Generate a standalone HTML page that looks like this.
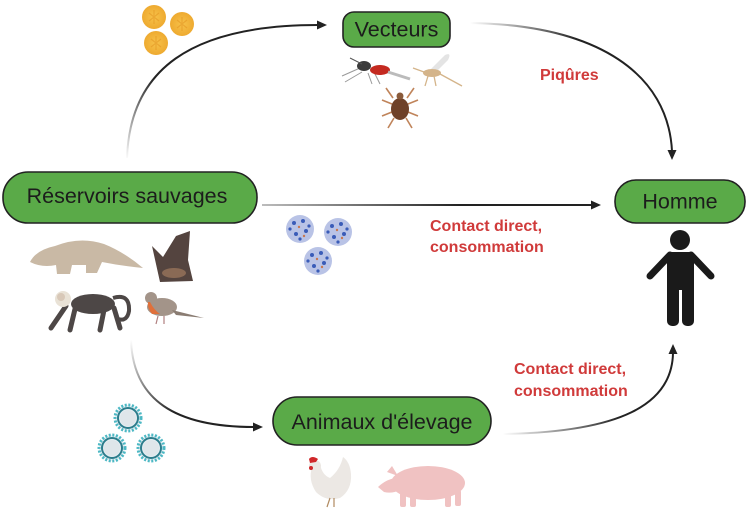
<!DOCTYPE html>
<html><head><meta charset="utf-8"><style>
html,body{margin:0;padding:0;background:#fff;}
svg{display:block;}
.bt{font-family:"Liberation Sans",Arial,sans-serif;font-size:21.5px;fill:#1c1c1c;}
.rt{font-family:"Liberation Sans",Arial,sans-serif;font-size:16px;font-weight:bold;fill:#d03a3a;}
</style></head><body>
<svg width="754" height="515" viewBox="0 0 754 515" xmlns="http://www.w3.org/2000/svg">
<defs>
<linearGradient id="g1" gradientUnits="userSpaceOnUse" x1="127" y1="160" x2="200" y2="40"><stop offset="0" stop-color="#222" stop-opacity="0"/><stop offset="0.6" stop-color="#222"/></linearGradient>
<linearGradient id="g2" gradientUnits="userSpaceOnUse" x1="470" y1="23" x2="620" y2="60"><stop offset="0" stop-color="#222" stop-opacity="0"/><stop offset="0.7" stop-color="#222"/></linearGradient>
<linearGradient id="g3" gradientUnits="userSpaceOnUse" x1="262" y1="0" x2="460" y2="0"><stop offset="0" stop-color="#222" stop-opacity="0.3"/><stop offset="1" stop-color="#222"/></linearGradient>
<linearGradient id="g4" gradientUnits="userSpaceOnUse" x1="131" y1="340" x2="170" y2="415"><stop offset="0" stop-color="#222" stop-opacity="0"/><stop offset="1" stop-color="#222"/></linearGradient>
<linearGradient id="g5" gradientUnits="userSpaceOnUse" x1="503" y1="434" x2="620" y2="425"><stop offset="0" stop-color="#222" stop-opacity="0"/><stop offset="1" stop-color="#222"/></linearGradient>
<radialGradient id="yv"><stop offset="0" stop-color="#f7c24a"/><stop offset="1" stop-color="#eeaa30"/></radialGradient>
</defs>

<!-- arrows -->
<path d="M127,158 C130,70 190,25 318,25" fill="none" stroke="url(#g1)" stroke-width="2"/>
<polygon points="327,25 317,20.5 317,29.5" fill="#222"/>
<path d="M470,23 C600,25 668,75 672,151" fill="none" stroke="url(#g2)" stroke-width="2"/>
<polygon points="672,160 667.5,150 676.5,150" fill="#222"/>
<path d="M262,205 L592,205" fill="none" stroke="url(#g3)" stroke-width="2"/>
<polygon points="601,205 591,200.5 591,209.5" fill="#222"/>
<path d="M131,340 C133,400 175,427 254,427" fill="none" stroke="url(#g4)" stroke-width="2"/>
<polygon points="263,427 253,422.5 253,431.5" fill="#222"/>
<path d="M503,434 C620,432 672,405 673,353" fill="none" stroke="url(#g5)" stroke-width="2"/>
<polygon points="673,344 668.5,354 677.5,354" fill="#222"/>

<!-- boxes -->
<rect x="343" y="12" width="107" height="35" rx="11" fill="#5aaa48" stroke="#222" stroke-width="1.6"/>
<text class="bt" x="396.5" y="36.5" text-anchor="middle">Vecteurs</text>
<rect x="3" y="172" width="254" height="51" rx="25" fill="#5aaa48" stroke="#222" stroke-width="1.6"/>
<text class="bt" x="127" y="203" text-anchor="middle">Réservoirs sauvages</text>
<rect x="615" y="180" width="130" height="43" rx="21" fill="#5aaa48" stroke="#222" stroke-width="1.6"/>
<text class="bt" x="680" y="208.5" text-anchor="middle">Homme</text>
<rect x="273" y="397" width="218" height="48" rx="24" fill="#5aaa48" stroke="#222" stroke-width="1.6"/>
<text class="bt" x="382" y="429" text-anchor="middle">Animaux d'élevage</text>

<!-- red labels -->
<text class="rt" x="540" y="80">Piqûres</text>
<text class="rt" x="430" y="231">Contact direct,</text>
<text class="rt" x="430" y="252">consommation</text>
<text class="rt" x="514" y="374">Contact direct,</text>
<text class="rt" x="514" y="396">consommation</text>

<!-- yellow viruses -->
<g>
<circle cx="154" cy="17" r="12" fill="url(#yv)"/>
<circle cx="182" cy="24" r="12" fill="url(#yv)"/>
<circle cx="156" cy="43" r="12" fill="url(#yv)"/>
<g stroke="#e39522" stroke-width="1.2" fill="none" opacity="0.55">
<path d="M149,13 L159,21 M159,13 L149,21 M154,10 L154,24"/>
<path d="M177,20 L187,28 M187,20 L177,28 M182,17 L182,31"/>
<path d="M151,39 L161,47 M161,39 L151,47 M156,36 L156,50"/>
</g>
</g>

<!-- blue viruses -->
<g>
<circle cx="300" cy="229" r="14" fill="#b9c3e6"/>
<circle cx="338" cy="232" r="14" fill="#b9c3e6"/>
<circle cx="318" cy="261" r="14" fill="#b9c3e6"/>
<g fill="#3a5cb8">
<circle cx="294" cy="223" r="2"/><circle cx="303" cy="221" r="2"/><circle cx="306" cy="231" r="2"/><circle cx="296" cy="234" r="2"/><circle cx="300" cy="239" r="1.6"/><circle cx="290" cy="229" r="1.6"/><circle cx="309" cy="226" r="1.6"/>
<circle cx="332" cy="226" r="2"/><circle cx="341" cy="224" r="2"/><circle cx="344" cy="234" r="2"/><circle cx="334" cy="237" r="2"/><circle cx="338" cy="242" r="1.6"/><circle cx="328" cy="232" r="1.6"/><circle cx="347" cy="229" r="1.6"/>
<circle cx="312" cy="255" r="2"/><circle cx="321" cy="253" r="2"/><circle cx="324" cy="263" r="2"/><circle cx="314" cy="266" r="2"/><circle cx="318" cy="271" r="1.6"/><circle cx="308" cy="261" r="1.6"/><circle cx="327" cy="258" r="1.6"/>
</g>
<g fill="#c87850">
<circle cx="299" cy="227" r="1.2"/><circle cx="337" cy="230" r="1.2"/><circle cx="317" cy="259" r="1.2"/><circle cx="304" cy="236" r="1.2"/><circle cx="342" cy="238" r="1.2"/><circle cx="322" cy="267" r="1.2"/>
</g>
</g>

<!-- teal viruses -->
<g>
<g fill="#e6eef2" stroke="#4cb8c4" stroke-width="3" stroke-dasharray="2 1.6">
<circle cx="128" cy="418" r="13"/>
<circle cx="112" cy="448" r="13"/>
<circle cx="151" cy="448" r="13"/>
</g>
<g fill="none" stroke="#2c7d8c" stroke-width="2">
<circle cx="128" cy="418" r="10"/>
<circle cx="112" cy="448" r="10"/>
<circle cx="151" cy="448" r="10"/>
</g>
<g fill="#dfe6ea">
<circle cx="128" cy="418" r="8"/><circle cx="112" cy="448" r="8"/><circle cx="151" cy="448" r="8"/>
</g>
</g>

<!-- pangolin -->
<path d="M30,262 Q36,250 55,246 Q80,236 104,244 Q124,252 143,268 Q122,266 102,262 L97,273 L86,273 L86,265 L72,265 L70,274 L57,274 L56,265 Q42,268 30,262 Z" fill="#c9b9a5"/>
<!-- bat -->
<path d="M160,282 L152,246 L163,257 L176,236 L190,231 L188,260 L193,281 Z" fill="#54443f"/>
<ellipse cx="174" cy="273" rx="12" ry="5" fill="#8a6a55"/>
<!-- monkey -->
<g fill="#4d4746" stroke="#4d4746">
<ellipse cx="93" cy="304" rx="22" ry="10" stroke="none"/>
<path d="M66,306 L51,328 M75,309 L70,330 M104,310 L100,330 M114,308 L120,328" stroke-width="5" stroke-linecap="round" fill="none"/>
<path d="M113,298 Q130,293 129,311 Q127,322 118,319" stroke-width="4" fill="none"/>
</g>
<circle cx="63" cy="299" r="8" fill="#e9e2d6"/>
<circle cx="61" cy="297" r="4" fill="#d8c8b8"/>
<!-- bird -->
<ellipse cx="162" cy="307" rx="15" ry="9" fill="#a39489"/>
<circle cx="151" cy="298" r="6" fill="#a39489"/>
<path d="M150,302 Q154,310 160,314 L152,314 Q147,308 148,302 Z" fill="#e0703a"/>
<path d="M172,310 L204,318 L176,315 Z" fill="#8a7c72"/>
<path d="M158,316 L156,324 M164,316 L164,324" stroke="#b08080" stroke-width="1.2"/>

<!-- insects -->
<!-- mosquito -->
<g>
<path d="M342,76 L360,68 M345,82 L362,72 M368,73 L372,84 M374,72 L380,84" stroke="#999" stroke-width="1" fill="none"/>
<ellipse cx="364" cy="66" rx="7" ry="5" fill="#3c3c3c"/>
<ellipse cx="380" cy="70" rx="10" ry="5" fill="#c42a20"/>
<path d="M388,72 L410,79" stroke="#bbb" stroke-width="3"/>
<path d="M362,64 L350,58" stroke="#555" stroke-width="1"/>
</g>
<!-- sandfly -->
<g>
<path d="M430,70 L445,55 Q452,52 448,60 L436,72 Z" fill="#e4e4e4"/>
<ellipse cx="432" cy="73" rx="9" ry="4" fill="#d4b48a"/>
<path d="M440,74 L462,86 M428,76 L425,86 M434,76 L436,86 M424,72 L413,68" stroke="#d4b48a" stroke-width="1.3" fill="none"/>
</g>
<!-- tick -->
<g>
<path d="M393,98 L386,88 M392,104 L382,100 M392,112 L382,116 M394,118 L388,128 M407,98 L414,88 M408,104 L418,100 M408,112 L418,116 M406,118 L412,128" stroke="#c0845a" stroke-width="1.6" fill="none"/>
<ellipse cx="400" cy="109" rx="9" ry="11" fill="#6f4128"/>
<circle cx="400" cy="96" r="3.5" fill="#8a5a3a"/>
</g>

<!-- person -->
<g fill="#1a1a1a">
<circle cx="680" cy="240" r="10"/>
<rect x="667" y="252" width="27" height="40" rx="5"/>
<rect x="667" y="280" width="12" height="46" rx="5"/>
<rect x="682" y="280" width="12" height="46" rx="5"/>
<path d="M670,255 L650,276" stroke="#1a1a1a" stroke-width="7" stroke-linecap="round"/>
<path d="M691,255 L711,276" stroke="#1a1a1a" stroke-width="7" stroke-linecap="round"/>
</g>
<rect x="679" y="290" width="3" height="36" fill="#fff"/>

<!-- chicken -->
<g>
<path d="M312,467 Q308,480 316,492 Q326,502 340,498 Q352,490 351,474 Q350,462 343,457 Q340,470 330,478 Q322,475 320,464 Z" fill="#ece8e4"/>
<circle cx="315" cy="466" r="6" fill="#ece8e4"/>
<path d="M309,459 Q312,455 318,459 L316,462 L310,463 Z" fill="#d0282a"/>
<circle cx="311" cy="468" r="2" fill="#d0282a"/>
<path d="M330,498 L327,507 M334,498 L334,507" stroke="#b08a60" stroke-width="1.2"/>
</g>
<!-- pig -->
<g fill="#f0c2c2">
<ellipse cx="428" cy="483" rx="37" ry="17"/>
<path d="M395,478 Q385,480 378,487 L384,492 Q392,494 400,490 Z"/>
<path d="M387,472 L392,466 L398,476 Z"/>
<rect x="400" y="492" width="6" height="15" rx="2"/>
<rect x="410" y="494" width="6" height="13" rx="2"/>
<rect x="445" y="492" width="6" height="15" rx="2"/>
<rect x="455" y="490" width="6" height="16" rx="2"/>
</g>
</svg>
</body></html>
